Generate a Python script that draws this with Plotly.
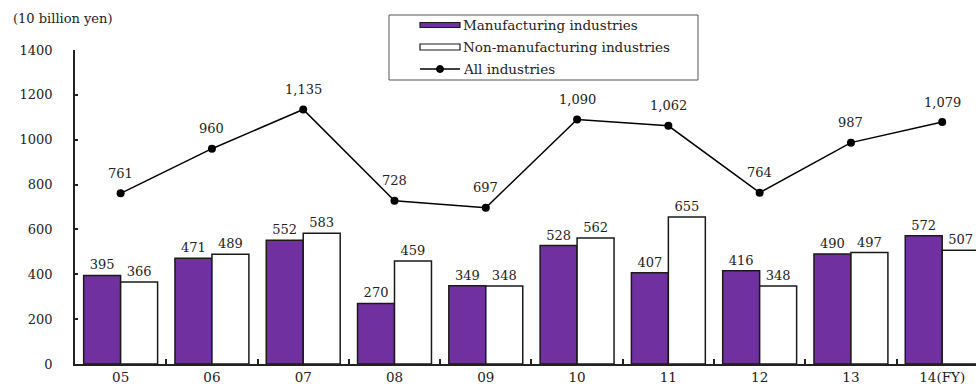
import plotly.graph_objects as go

years = ["05", "06", "07", "08", "09", "10", "11", "12", "13", "14(FY)"]
manufacturing = [395, 471, 552, 270, 349, 528, 407, 416, 490, 572]
non_manufacturing = [366, 489, 583, 459, 348, 562, 655, 348, 497, 507]
all_industries = [761, 960, 1135, 728, 697, 1090, 1062, 764, 987, 1079]
all_labels = ["761", "960", "1,135", "728", "697", "1,090", "1,062", "764", "987", "1,079"]

W, H = 976, 387
L, R, T, B = 75, 0, 50, 23
PW, PH = W - L - R, H - T - B
FONT = "DejaVu Serif"
PURPLE = "#7030A0"
TXT = "#222"


def px(x):
    return (x - L) / PW


def py(y):
    return (H - B - y) / PH


fig = go.Figure()
fig.add_trace(go.Bar(
    x=years, y=manufacturing, name="Manufacturing industries",
    marker=dict(color=PURPLE, line=dict(color="#1a1a1a", width=1.5)),
    text=[str(v) for v in manufacturing], textposition="outside",
    textfont=dict(family=FONT, size=13, color=TXT), cliponaxis=False,
))
fig.add_trace(go.Bar(
    x=years, y=non_manufacturing, name="Non-manufacturing industries",
    marker=dict(color="white", line=dict(color="#1a1a1a", width=1.5)),
    text=[str(v) for v in non_manufacturing], textposition="outside",
    textfont=dict(family=FONT, size=13, color=TXT), cliponaxis=True,
))
fig.add_trace(go.Scatter(
    x=years, y=all_industries, name="All industries", mode="lines+markers",
    line=dict(color="black", width=1.5),
    marker=dict(color="black", size=8),
))
for i, (v, lab) in enumerate(zip(all_industries, all_labels)):
    fig.add_annotation(x=i, y=v, text=lab, showarrow=False, yshift=20,
                       font=dict(family=FONT, size=13, color=TXT))

# y-axis unit label
fig.add_annotation(xref="paper", yref="paper", x=px(11), y=py(19), xanchor="left",
                   yanchor="middle", text="(10 billion yen)", showarrow=False,
                   font=dict(family=FONT, size=13, color=TXT))

# manual legend
shapes = [
    dict(type="rect", xref="paper", yref="paper", x0=px(389), x1=px(698), y0=py(80), y1=py(15),
         line=dict(color="#555", width=1), fillcolor="white", layer="above"),
    dict(type="rect", xref="paper", yref="paper", x0=px(420), x1=px(460), y0=py(27.5), y1=py(22.5),
         line=dict(color="#1a1a1a", width=1.2), fillcolor=PURPLE, layer="above"),
    dict(type="rect", xref="paper", yref="paper", x0=px(420), x1=px(460), y0=py(50), y1=py(44),
         line=dict(color="#1a1a1a", width=1.2), fillcolor="white", layer="above"),
    dict(type="line", xref="paper", yref="paper", x0=px(420), x1=px(460), y0=py(69), y1=py(69),
         line=dict(color="black", width=1.5), layer="above"),
    dict(type="circle", xref="paper", yref="paper", x0=px(436.5), x1=px(443.5), y0=py(72.5), y1=py(65.5),
         line=dict(color="black", width=1), fillcolor="black", layer="above"),
]
for txt, yy in [("Manufacturing industries", 25), ("Non-manufacturing industries", 47), ("All industries", 69)]:
    fig.add_annotation(xref="paper", yref="paper", x=px(461), y=py(yy), xanchor="left", yanchor="middle",
                       text=txt, showarrow=False, font=dict(family=FONT, size=13.5, color=TXT))

fig.update_layout(
    width=W, height=H, margin=dict(l=L, r=R, t=T, b=B, autoexpand=False),
    paper_bgcolor="white", plot_bgcolor="white",
    barmode="group", bargap=0.19, bargroupgap=0,
    showlegend=False, shapes=shapes,
    font=dict(family=FONT, size=13, color=TXT),
)
fig.update_xaxes(
    type="category", range=[-0.5, 9.37], showline=True, linecolor="#222", linewidth=1.5,
    ticks="inside", tickson="boundaries", ticklen=5, tickcolor="#222", tickwidth=1.5,
    showgrid=False, automargin=False, tickfont=dict(family=FONT, size=13.5, color=TXT),
)
fig.update_yaxes(
    range=[0, 1400], dtick=200, showline=True, linecolor="#222", linewidth=1.5,
    ticks="inside", ticklen=3, tickcolor="#222", tickwidth=1.5, showgrid=False, zeroline=False,
    automargin=False, ticklabelstandoff=18, tickfont=dict(family=FONT, size=13, color=TXT),
)

fig.write_html("out.html")
